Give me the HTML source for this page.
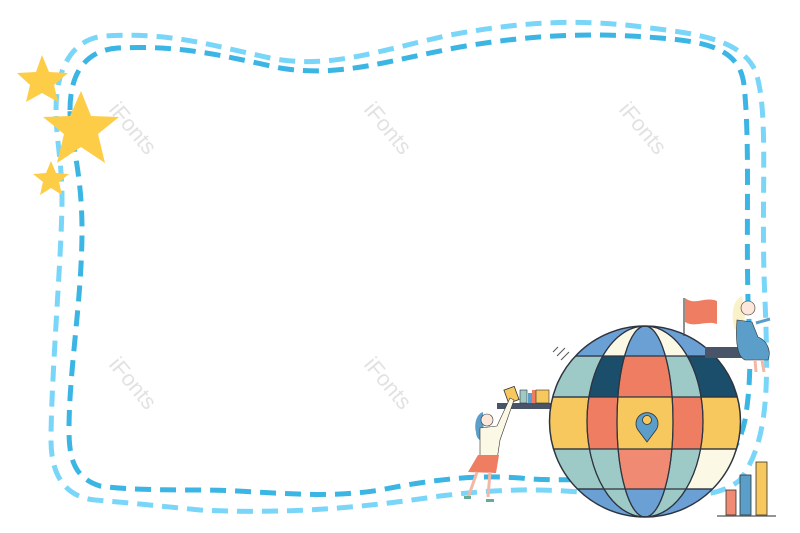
<!DOCTYPE html>
<html><head><meta charset="utf-8"><style>html,body{margin:0;padding:0;background:#fff}svg{display:block}</style></head>
<body>
<svg width="800" height="533" viewBox="0 0 800 533" xmlns="http://www.w3.org/2000/svg">
<defs>
<clipPath id="g"><circle cx="645" cy="421.5" r="95.5"/></clipPath>
<clipPath id="b1"><rect x="540" y="320" width="220" height="36"/></clipPath>
<clipPath id="b2"><rect x="540" y="356" width="220" height="41"/></clipPath>
<clipPath id="b3"><rect x="540" y="397" width="220" height="52"/></clipPath>
<clipPath id="b4"><rect x="540" y="449" width="220" height="40"/></clipPath>
<clipPath id="b5"><rect x="540" y="489" width="220" height="40"/></clipPath>
</defs>
<!-- outer dashed frame -->
<path d="M56,110 C56,65 75,38 105,36 C170,32 210,45 270,58 C330,70 380,50 450,35 C520,22 580,18 650,28 C700,34 740,40 755,70 C770,110 760,200 765,300 C768,380 770,440 740,480 C710,505 650,495 580,492 C530,488 490,490 440,496 C380,505 300,515 200,510 C150,505 120,502 95,500 C65,497 51,475 51,440 C51,380 62,250 62,200 C62,160 56,140 56,110 Z" fill="none" stroke="#79d6f9" stroke-width="5" stroke-dasharray="16,9"/>
<!-- inner dashed frame -->
<path d="M70,110 C70,70 88,50 118,48 C180,45 220,55 280,68 C340,78 390,60 460,47 C530,35 590,32 660,38 C710,42 740,50 744,85 C750,140 746,220 748,300 C750,340 752,380 745,420 C735,470 700,478 640,478 C600,478 560,482 520,478 C480,475 440,478 380,490 C320,500 260,490 200,490 C150,490 120,489 100,486 C75,478 69,460 69,430 C69,370 82,300 82,230 C82,170 70,140 70,110 Z" fill="none" stroke="#3bb5e3" stroke-width="5" stroke-dasharray="16,9"/>
<!-- watermarks -->
<g font-family="Liberation Sans, sans-serif" font-size="22" fill="#e2e2e2">
<text transform="translate(108,110) rotate(50)">iFonts</text>
<text transform="translate(363,110) rotate(50)">iFonts</text>
<text transform="translate(618,110) rotate(50)">iFonts</text>
<text transform="translate(108,365) rotate(50)">iFonts</text>
<text transform="translate(363,365) rotate(50)">iFonts</text>
</g>
<!-- stars -->
<g fill="#fdcd47">
<polygon points="42,55 49,72 68,73 54,85 58,102 42,93 26,102 30,85 17,73 36,72"/>
<polygon points="81,91 91,116 119,117 98,134 105,163 81,147 57,163 64,134 43,117 70,116"/>
<polygon points="51,161 56,173 69,174 59,182 62,195 51,188 40,195 43,182 33,174 46,173"/>
</g>
<!-- shelf left -->
<rect x="497" y="403" width="56" height="6" fill="#4a5468"/>
<rect x="520" y="390" width="7" height="13" fill="#9dc9c6" stroke="#333" stroke-width="0.6"/>
<rect x="528" y="393" width="4" height="10" fill="#5b9ec9"/>
<rect x="532" y="390" width="4" height="13" fill="#ef7d62"/>
<rect x="536" y="390" width="13" height="13" fill="#f7c85d" stroke="#333" stroke-width="0.6"/>
<rect x="506" y="388" width="11" height="14" fill="#f7c85d" stroke="#333" stroke-width="0.8" transform="rotate(-20 511 395)"/>
<!-- woman left -->
<path d="M483,412 C476,414 474,425 476,432 C476,438 480,442 484,440 Z" fill="#5b9ec9"/>
<circle cx="487" cy="420" r="6" fill="#fde6da" stroke="#333" stroke-width="0.6"/>
<path d="M480,428 L497,426 L510,398 L514,400 L500,440 L497,460 L480,460 Z" fill="#fbf8e6" stroke="#333" stroke-width="0.6"/>
<path d="M478,455 L499,455 L496,473 L468,472 Z" fill="#ef7d62"/>
<path d="M477,472 L468,498 M490,472 L488,497" stroke="#f2b7a5" stroke-width="3"/>
<rect x="464" y="496" width="7" height="3" fill="#6a9"/><rect x="486" y="499" width="8" height="3" fill="#6a9"/>
<!-- speed lines -->
<path d="M553,352 l5,-5 M557,356 l8,-8 M561,360 l8,-8" stroke="#555" stroke-width="1"/>
<!-- globe -->
<g clip-path="url(#g)" stroke="#2e3440" stroke-width="1.2">
<g clip-path="url(#b1)"><rect x="540" y="320" width="220" height="40" fill="#6aa0d4"/><ellipse cx="645" cy="421.5" rx="58" ry="95.5" fill="#fbf8e6"/><ellipse cx="645" cy="421.5" rx="28" ry="95.5" fill="#6aa0d4"/></g>
<g clip-path="url(#b2)"><rect x="540" y="356" width="105" height="41" fill="#9dc9c6"/><rect x="645" y="356" width="115" height="41" fill="#1b4e6b"/><path d="M645,326 A58,95.5 0 0 0 645,517 Z" fill="#1b4e6b"/><path d="M645,326 A58,95.5 0 0 1 645,517 Z" fill="#9dc9c6"/><ellipse cx="645" cy="421.5" rx="28" ry="95.5" fill="#ef7d62"/></g>
<g clip-path="url(#b3)"><rect x="540" y="397" width="220" height="52" fill="#f7c85d"/><ellipse cx="645" cy="421.5" rx="58" ry="95.5" fill="#ef7d62"/><ellipse cx="645" cy="421.5" rx="28" ry="95.5" fill="#f7c85d"/></g>
<g clip-path="url(#b4)"><rect x="540" y="449" width="105" height="40" fill="#9dc9c6"/><rect x="645" y="449" width="115" height="40" fill="#fbf8e6"/><ellipse cx="645" cy="421.5" rx="58" ry="95.5" fill="#9dc9c6"/><ellipse cx="645" cy="421.5" rx="28" ry="95.5" fill="#f08a73"/></g>
<g clip-path="url(#b5)"><rect x="540" y="489" width="220" height="40" fill="#6aa0d4"/><ellipse cx="645" cy="421.5" rx="58" ry="95.5" fill="#9dc9c6"/><ellipse cx="645" cy="421.5" rx="28" ry="95.5" fill="#6aa0d4"/></g>
<path d="M540,356 H760 M540,397 H760 M540,449 H760 M540,489 H760" fill="none"/>
<ellipse cx="645" cy="421.5" rx="58" ry="95.5" fill="none"/>
<ellipse cx="645" cy="421.5" rx="28" ry="95.5" fill="none"/>
</g>
<circle cx="645" cy="421.5" r="95.5" fill="none" stroke="#2e3440" stroke-width="1.5"/>
<!-- pin -->
<path d="M647,442 L638,430 A11,11 0 1 1 656,430 Z" fill="#5b9ec9" stroke="#333" stroke-width="0.8"/>
<circle cx="647" cy="420" r="4.5" fill="#f7c85d" stroke="#333" stroke-width="0.8"/>
<!-- flag -->
<line x1="684" y1="298" x2="684" y2="336" stroke="#444" stroke-width="1.2"/>
<path d="M685,298 C695,306 705,296 717,301 L717,324 C706,320 695,328 685,322 Z" fill="#ef7d62"/>
<!-- right platform -->
<rect x="705" y="347" width="50" height="11" fill="#4a5468"/>
<!-- woman right -->
<path d="M742,296 C733,300 730,315 735,330 L745,318 Z" fill="#fbf1c8"/>
<circle cx="748" cy="308" r="7" fill="#fde6da" stroke="#333" stroke-width="0.6"/>
<path d="M737,320 C735,345 738,357 745,360 L768,360 C772,350 766,340 758,337 L752,322 Z" fill="#5b9ec9" stroke="#333" stroke-width="0.6"/>
<path d="M756,323 L770,319" stroke="#5b9ec9" stroke-width="3"/>
<path d="M755,360 L756,372 M762,360 L764,372" stroke="#f2b7a5" stroke-width="3"/>
<!-- bars -->
<rect x="726" y="490" width="10" height="25" fill="#f08a73" stroke="#333" stroke-width="0.8"/>
<rect x="740" y="475" width="11" height="40" fill="#5b9ec9" stroke="#333" stroke-width="0.8"/>
<rect x="756" y="462" width="11" height="53" fill="#f7c85d" stroke="#333" stroke-width="0.8"/>
<line x1="717" y1="516" x2="776" y2="516" stroke="#555" stroke-width="1.2"/>
</svg>
</body></html>
